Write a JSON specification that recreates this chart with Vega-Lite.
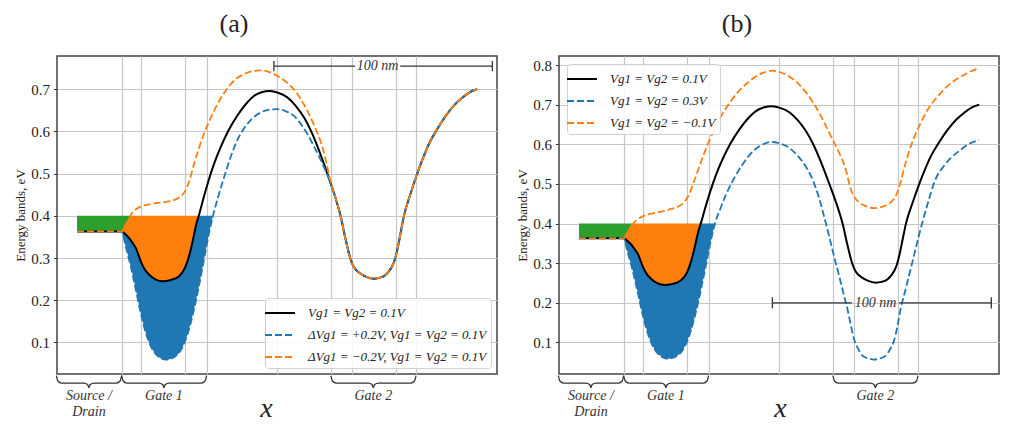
{
  "$schema": "https://vega.github.io/schema/vega-lite/v6.json",
  "autosize": {"type": "pad"},
  "padding": {"left": 14, "top": 10, "right": 5, "bottom": 5},
  "background": "white",
  "spacing": 62,
  "bounds": "flush",
  "datasets": {
    "black": [
      {"x": 9.1, "y": 0.363}, {"x": 20, "y": 0.363}, {"x": 29.4, "y": 0.363}, {"x": 31, "y": 0.357},
      {"x": 32.7, "y": 0.348}, {"x": 34.2, "y": 0.337}, {"x": 35.8, "y": 0.324}, {"x": 38.3, "y": 0.289},
      {"x": 40, "y": 0.272}, {"x": 41.8, "y": 0.261}, {"x": 44.9, "y": 0.249}, {"x": 47.9, "y": 0.245},
      {"x": 51.7, "y": 0.248}, {"x": 55.5, "y": 0.257}, {"x": 58.2, "y": 0.277}, {"x": 60, "y": 0.304},
      {"x": 61.5, "y": 0.336}, {"x": 63.3, "y": 0.38}, {"x": 64.7, "y": 0.405}, {"x": 66.8, "y": 0.446},
      {"x": 68.8, "y": 0.482}, {"x": 71.5, "y": 0.525}, {"x": 74.4, "y": 0.563}, {"x": 78, "y": 0.603},
      {"x": 82, "y": 0.638}, {"x": 85.7, "y": 0.664}, {"x": 89.5, "y": 0.684}, {"x": 93, "y": 0.693},
      {"x": 96.8, "y": 0.696}, {"x": 100.5, "y": 0.692}, {"x": 104.7, "y": 0.681}, {"x": 108.5, "y": 0.661},
      {"x": 112.3, "y": 0.633}, {"x": 115.5, "y": 0.601}, {"x": 118.3, "y": 0.566}, {"x": 120.6, "y": 0.534},
      {"x": 122.9, "y": 0.5}, {"x": 125.9, "y": 0.454}, {"x": 128.9, "y": 0.4}, {"x": 131.2, "y": 0.344},
      {"x": 133.5, "y": 0.296}, {"x": 135, "y": 0.278}, {"x": 136.5, "y": 0.269}, {"x": 138.5, "y": 0.261},
      {"x": 140.3, "y": 0.256}, {"x": 144.1, "y": 0.251}, {"x": 146.5, "y": 0.253}, {"x": 148.6, "y": 0.257},
      {"x": 150.5, "y": 0.266}, {"x": 152.4, "y": 0.281}, {"x": 153.6, "y": 0.297}, {"x": 154.7, "y": 0.32},
      {"x": 156.2, "y": 0.36}, {"x": 157.7, "y": 0.4}, {"x": 160.8, "y": 0.454}, {"x": 163.8, "y": 0.501},
      {"x": 166, "y": 0.532}, {"x": 169.1, "y": 0.571}, {"x": 172.5, "y": 0.603}, {"x": 176.7, "y": 0.637},
      {"x": 180.5, "y": 0.662}, {"x": 184.2, "y": 0.68}, {"x": 187.5, "y": 0.693}, {"x": 191, "y": 0.7}
    ],
    "dash_a": [
      {"s": "b", "x": 9.1, "y": 0.363}, {"s": "b", "x": 20, "y": 0.363}, {"s": "b", "x": 29.4, "y": 0.363},
      {"s": "b", "x": 31.2, "y": 0.328}, {"s": "b", "x": 33.5, "y": 0.281}, {"s": "b", "x": 35.8, "y": 0.226},
      {"s": "b", "x": 38, "y": 0.171}, {"s": "b", "x": 40.3, "y": 0.124}, {"s": "b", "x": 43.3, "y": 0.084},
      {"s": "b", "x": 46.4, "y": 0.065}, {"s": "b", "x": 49.4, "y": 0.059}, {"s": "b", "x": 53.2, "y": 0.065},
      {"s": "b", "x": 57, "y": 0.088}, {"s": "b", "x": 60, "y": 0.131}, {"s": "b", "x": 62.3, "y": 0.179},
      {"s": "b", "x": 64.5, "y": 0.233}, {"s": "b", "x": 66.8, "y": 0.296}, {"s": "b", "x": 69.1, "y": 0.359},
      {"s": "b", "x": 70.9, "y": 0.4}, {"s": "b", "x": 73.3, "y": 0.446}, {"s": "b", "x": 75.5, "y": 0.484},
      {"s": "b", "x": 78.9, "y": 0.539}, {"s": "b", "x": 82, "y": 0.58}, {"s": "b", "x": 85, "y": 0.607},
      {"s": "b", "x": 88.8, "y": 0.631}, {"s": "b", "x": 92.6, "y": 0.645}, {"s": "b", "x": 96.5, "y": 0.652},
      {"s": "b", "x": 100.1, "y": 0.653}, {"s": "b", "x": 104, "y": 0.648}, {"s": "b", "x": 107.7, "y": 0.637},
      {"s": "b", "x": 110.8, "y": 0.618}, {"s": "b", "x": 113.8, "y": 0.594}, {"s": "b", "x": 117, "y": 0.563},
      {"s": "b", "x": 119.9, "y": 0.532}, {"s": "b", "x": 122.9, "y": 0.497}, {"s": "b", "x": 125.1, "y": 0.466},
      {"s": "b", "x": 128.9, "y": 0.4}, {"s": "b", "x": 131.2, "y": 0.344}, {"s": "b", "x": 133.5, "y": 0.296},
      {"s": "b", "x": 135, "y": 0.278}, {"s": "b", "x": 136.5, "y": 0.269}, {"s": "b", "x": 138.5, "y": 0.261},
      {"s": "b", "x": 140.3, "y": 0.256}, {"s": "b", "x": 144.1, "y": 0.251}, {"s": "b", "x": 146.5, "y": 0.253},
      {"s": "b", "x": 148.6, "y": 0.257}, {"s": "b", "x": 150.5, "y": 0.266}, {"s": "b", "x": 152.4, "y": 0.281},
      {"s": "b", "x": 153.6, "y": 0.297}, {"s": "b", "x": 154.7, "y": 0.32}, {"s": "b", "x": 156.2, "y": 0.36},
      {"s": "b", "x": 157.7, "y": 0.4}, {"s": "b", "x": 160.8, "y": 0.454}, {"s": "b", "x": 163.8, "y": 0.501},
      {"s": "b", "x": 166, "y": 0.532}, {"s": "b", "x": 169.1, "y": 0.571}, {"s": "b", "x": 172.5, "y": 0.603},
      {"s": "b", "x": 176.7, "y": 0.637}, {"s": "b", "x": 180.5, "y": 0.662}, {"s": "b", "x": 184.2, "y": 0.68},
      {"s": "b", "x": 187.5, "y": 0.693}, {"s": "b", "x": 191, "y": 0.7},
      {"s": "o", "x": 9.1, "y": 0.363}, {"s": "o", "x": 20, "y": 0.363}, {"s": "o", "x": 29.4, "y": 0.363},
      {"s": "o", "x": 31, "y": 0.378}, {"s": "o", "x": 32, "y": 0.387}, {"s": "o", "x": 34.2, "y": 0.407},
      {"s": "o", "x": 38, "y": 0.422}, {"s": "o", "x": 44.9, "y": 0.43}, {"s": "o", "x": 52.4, "y": 0.436},
      {"s": "o", "x": 55, "y": 0.442}, {"s": "o", "x": 57, "y": 0.45}, {"s": "o", "x": 59.2, "y": 0.469},
      {"s": "o", "x": 60.3, "y": 0.485}, {"s": "o", "x": 62.3, "y": 0.523}, {"s": "o", "x": 64.5, "y": 0.56},
      {"s": "o", "x": 66.8, "y": 0.594}, {"s": "o", "x": 71.4, "y": 0.649}, {"s": "o", "x": 77.4, "y": 0.702},
      {"s": "o", "x": 81, "y": 0.723}, {"s": "o", "x": 85, "y": 0.736}, {"s": "o", "x": 89, "y": 0.743},
      {"s": "o", "x": 92.6, "y": 0.745}, {"s": "o", "x": 96.5, "y": 0.741}, {"s": "o", "x": 100.1, "y": 0.732},
      {"s": "o", "x": 104, "y": 0.718}, {"s": "o", "x": 107.7, "y": 0.7}, {"s": "o", "x": 110.8, "y": 0.677},
      {"s": "o", "x": 113.8, "y": 0.649}, {"s": "o", "x": 117, "y": 0.613}, {"s": "o", "x": 119.9, "y": 0.575},
      {"s": "o", "x": 121.5, "y": 0.547}, {"s": "o", "x": 122.9, "y": 0.515}, {"s": "o", "x": 124.5, "y": 0.478},
      {"s": "o", "x": 125.9, "y": 0.454}, {"s": "o", "x": 128.9, "y": 0.4}, {"s": "o", "x": 131.2, "y": 0.344},
      {"s": "o", "x": 133.5, "y": 0.296}, {"s": "o", "x": 135, "y": 0.278}, {"s": "o", "x": 136.5, "y": 0.269},
      {"s": "o", "x": 138.5, "y": 0.261}, {"s": "o", "x": 140.3, "y": 0.256}, {"s": "o", "x": 144.1, "y": 0.251},
      {"s": "o", "x": 146.5, "y": 0.253}, {"s": "o", "x": 148.6, "y": 0.257}, {"s": "o", "x": 150.5, "y": 0.266},
      {"s": "o", "x": 152.4, "y": 0.281}, {"s": "o", "x": 153.6, "y": 0.297}, {"s": "o", "x": 154.7, "y": 0.32},
      {"s": "o", "x": 156.2, "y": 0.36}, {"s": "o", "x": 157.7, "y": 0.4}, {"s": "o", "x": 160.8, "y": 0.454},
      {"s": "o", "x": 163.8, "y": 0.501}, {"s": "o", "x": 166, "y": 0.532}, {"s": "o", "x": 169.1, "y": 0.571},
      {"s": "o", "x": 172.5, "y": 0.603}, {"s": "o", "x": 176.7, "y": 0.637}, {"s": "o", "x": 180.5, "y": 0.662},
      {"s": "o", "x": 184.2, "y": 0.68}, {"s": "o", "x": 187.5, "y": 0.693}, {"s": "o", "x": 191, "y": 0.7}
    ],
    "dash_b": [
      {"s": "b", "x": 9.1, "y": 0.363}, {"s": "b", "x": 20, "y": 0.363}, {"s": "b", "x": 29.4, "y": 0.363},
      {"s": "b", "x": 31.2, "y": 0.328}, {"s": "b", "x": 33.5, "y": 0.281}, {"s": "b", "x": 35.8, "y": 0.226},
      {"s": "b", "x": 38, "y": 0.171}, {"s": "b", "x": 40.3, "y": 0.124}, {"s": "b", "x": 43.3, "y": 0.084},
      {"s": "b", "x": 46.4, "y": 0.065}, {"s": "b", "x": 49.4, "y": 0.059}, {"s": "b", "x": 53.2, "y": 0.065},
      {"s": "b", "x": 57, "y": 0.088}, {"s": "b", "x": 60, "y": 0.131}, {"s": "b", "x": 62.3, "y": 0.179},
      {"s": "b", "x": 64.5, "y": 0.233}, {"s": "b", "x": 66.8, "y": 0.296}, {"s": "b", "x": 69.1, "y": 0.359},
      {"s": "b", "x": 70.9, "y": 0.4}, {"s": "b", "x": 73.3, "y": 0.437}, {"s": "b", "x": 75.8, "y": 0.472},
      {"s": "b", "x": 78.5, "y": 0.503}, {"s": "b", "x": 81, "y": 0.528}, {"s": "b", "x": 83.3, "y": 0.548},
      {"s": "b", "x": 85.7, "y": 0.567}, {"s": "b", "x": 89.5, "y": 0.589}, {"s": "b", "x": 93, "y": 0.601},
      {"s": "b", "x": 96.8, "y": 0.606}, {"s": "b", "x": 100.5, "y": 0.602}, {"s": "b", "x": 104.7, "y": 0.591},
      {"s": "b", "x": 108.5, "y": 0.571}, {"s": "b", "x": 112.3, "y": 0.543}, {"s": "b", "x": 115.5, "y": 0.508},
      {"s": "b", "x": 118.2, "y": 0.465}, {"s": "b", "x": 120.5, "y": 0.418}, {"s": "b", "x": 122.7, "y": 0.37},
      {"s": "b", "x": 125, "y": 0.318}, {"s": "b", "x": 127.3, "y": 0.269}, {"s": "b", "x": 129.2, "y": 0.226},
      {"s": "b", "x": 131.1, "y": 0.185}, {"s": "b", "x": 132.6, "y": 0.145}, {"s": "b", "x": 134.1, "y": 0.109},
      {"s": "b", "x": 135.9, "y": 0.085}, {"s": "b", "x": 137.9, "y": 0.067}, {"s": "b", "x": 140.5, "y": 0.06},
      {"s": "b", "x": 143.2, "y": 0.057}, {"s": "b", "x": 146, "y": 0.06}, {"s": "b", "x": 148.5, "y": 0.067},
      {"s": "b", "x": 150.5, "y": 0.083}, {"s": "b", "x": 152.3, "y": 0.105}, {"s": "b", "x": 153.8, "y": 0.14},
      {"s": "b", "x": 155.3, "y": 0.185}, {"s": "b", "x": 157.2, "y": 0.227}, {"s": "b", "x": 159.1, "y": 0.269},
      {"s": "b", "x": 161.3, "y": 0.318}, {"s": "b", "x": 163.6, "y": 0.37}, {"s": "b", "x": 165.9, "y": 0.418},
      {"s": "b", "x": 168.2, "y": 0.462}, {"s": "b", "x": 170, "y": 0.495}, {"s": "b", "x": 172, "y": 0.522},
      {"s": "b", "x": 174.5, "y": 0.542}, {"s": "b", "x": 178, "y": 0.565}, {"s": "b", "x": 181.8, "y": 0.583},
      {"s": "b", "x": 186, "y": 0.6}, {"s": "b", "x": 190.9, "y": 0.611},
      {"s": "o", "x": 9.1, "y": 0.363}, {"s": "o", "x": 20, "y": 0.363}, {"s": "o", "x": 29.4, "y": 0.363},
      {"s": "o", "x": 31, "y": 0.377}, {"s": "o", "x": 33.3, "y": 0.397}, {"s": "o", "x": 35.5, "y": 0.41},
      {"s": "o", "x": 37.9, "y": 0.418}, {"s": "o", "x": 42, "y": 0.425}, {"s": "o", "x": 47, "y": 0.431},
      {"s": "o", "x": 51, "y": 0.437}, {"s": "o", "x": 54.5, "y": 0.444}, {"s": "o", "x": 57, "y": 0.455},
      {"s": "o", "x": 59.1, "y": 0.473}, {"s": "o", "x": 61.3, "y": 0.505}, {"s": "o", "x": 63.6, "y": 0.541},
      {"s": "o", "x": 65.9, "y": 0.576}, {"s": "o", "x": 68.2, "y": 0.608}, {"s": "o", "x": 71, "y": 0.642},
      {"s": "o", "x": 74.2, "y": 0.676}, {"s": "o", "x": 78, "y": 0.708}, {"s": "o", "x": 81.8, "y": 0.735},
      {"s": "o", "x": 85.6, "y": 0.755}, {"s": "o", "x": 89.4, "y": 0.771}, {"s": "o", "x": 93, "y": 0.781},
      {"s": "o", "x": 97, "y": 0.786}, {"s": "o", "x": 100.5, "y": 0.782}, {"s": "o", "x": 104.5, "y": 0.772},
      {"s": "o", "x": 108.3, "y": 0.756}, {"s": "o", "x": 112, "y": 0.733}, {"s": "o", "x": 115.8, "y": 0.703},
      {"s": "o", "x": 119.5, "y": 0.667}, {"s": "o", "x": 123, "y": 0.627}, {"s": "o", "x": 127, "y": 0.583},
      {"s": "o", "x": 130.3, "y": 0.538}, {"s": "o", "x": 132.6, "y": 0.488}, {"s": "o", "x": 134.5, "y": 0.465},
      {"s": "o", "x": 136.4, "y": 0.454}, {"s": "o", "x": 139.5, "y": 0.444}, {"s": "o", "x": 143.2, "y": 0.439},
      {"s": "o", "x": 146.5, "y": 0.442}, {"s": "o", "x": 150, "y": 0.45}, {"s": "o", "x": 152.2, "y": 0.462},
      {"s": "o", "x": 153.8, "y": 0.479}, {"s": "o", "x": 155.3, "y": 0.505}, {"s": "o", "x": 156.8, "y": 0.538},
      {"s": "o", "x": 159, "y": 0.58}, {"s": "o", "x": 161.4, "y": 0.617}, {"s": "o", "x": 164.5, "y": 0.655},
      {"s": "o", "x": 168.2, "y": 0.693}, {"s": "o", "x": 172, "y": 0.72}, {"s": "o", "x": 175.8, "y": 0.743},
      {"s": "o", "x": 179.5, "y": 0.76}, {"s": "o", "x": 183.3, "y": 0.773}, {"s": "o", "x": 187, "y": 0.784},
      {"s": "o", "x": 190.9, "y": 0.792}
    ],
    "fill_g": [
      {"x": 9.1, "y": 0.4, "y2": 0.363}, {"x": 29.4, "y": 0.4, "y2": 0.363}, {"x": 31, "y": 0.4, "y2": 0.378},
      {"x": 32, "y": 0.4, "y2": 0.387}, {"x": 33.3, "y": 0.4, "y2": 0.4}
    ],
    "fill_o": [
      {"x": 29.4, "y": 0.363, "y2": 0.363}, {"x": 31, "y": 0.378, "y2": 0.357}, {"x": 32, "y": 0.387, "y2": 0.353},
      {"x": 33.3, "y": 0.4, "y2": 0.343}, {"x": 34.2, "y": 0.4, "y2": 0.337}, {"x": 35.8, "y": 0.4, "y2": 0.324},
      {"x": 38.3, "y": 0.4, "y2": 0.289}, {"x": 40, "y": 0.4, "y2": 0.272}, {"x": 41.8, "y": 0.4, "y2": 0.261},
      {"x": 44.9, "y": 0.4, "y2": 0.249}, {"x": 47.9, "y": 0.4, "y2": 0.245}, {"x": 51.7, "y": 0.4, "y2": 0.248},
      {"x": 55.5, "y": 0.4, "y2": 0.257}, {"x": 58.2, "y": 0.4, "y2": 0.277}, {"x": 60, "y": 0.4, "y2": 0.304},
      {"x": 61.5, "y": 0.4, "y2": 0.336}, {"x": 63.3, "y": 0.4, "y2": 0.38}, {"x": 64.5, "y": 0.4, "y2": 0.4}
    ],
    "fill_b": [
      {"x": 29.4, "y": 0.363, "y2": 0.363}, {"x": 31.2, "y": 0.356, "y2": 0.328}, {"x": 33.5, "y": 0.341, "y2": 0.281},
      {"x": 35.8, "y": 0.324, "y2": 0.226}, {"x": 38, "y": 0.293, "y2": 0.171}, {"x": 40.3, "y": 0.27, "y2": 0.124},
      {"x": 43.3, "y": 0.254, "y2": 0.084}, {"x": 46.4, "y": 0.247, "y2": 0.065}, {"x": 49.4, "y": 0.246, "y2": 0.059},
      {"x": 53.2, "y": 0.251, "y2": 0.065}, {"x": 57, "y": 0.268, "y2": 0.088}, {"x": 60, "y": 0.304, "y2": 0.131},
      {"x": 62.3, "y": 0.356, "y2": 0.179}, {"x": 64.5, "y": 0.4, "y2": 0.233}, {"x": 66.8, "y": 0.4, "y2": 0.296},
      {"x": 69.1, "y": 0.4, "y2": 0.359}, {"x": 70.9, "y": 0.4, "y2": 0.4}
    ],
    "brace_a": [
      {"g": "sd", "x": -0.3, "y": 0.0209}, {"g": "sd", "x": 0.4, "y": 0.0083}, {"g": "sd", "x": 2.0, "y": 0.0036},
      {"g": "sd", "x": 12.2, "y": 0.0036}, {"g": "sd", "x": 13.9, "y": 0.0}, {"g": "sd", "x": 14.5, "y": -0.0071},
      {"g": "sd", "x": 15.1, "y": 0.0}, {"g": "sd", "x": 16.8, "y": 0.0036}, {"g": "sd", "x": 27.1, "y": 0.0036},
      {"g": "sd", "x": 28.7, "y": 0.0083}, {"g": "sd", "x": 29.4, "y": 0.0209},
      {"g": "g1", "x": 29.4, "y": 0.0209}, {"g": "g1", "x": 30.1, "y": 0.0083}, {"g": "g1", "x": 31.7, "y": 0.0036},
      {"g": "g1", "x": 46.3, "y": 0.0036}, {"g": "g1", "x": 48.0, "y": 0.0}, {"g": "g1", "x": 48.6, "y": -0.0071},
      {"g": "g1", "x": 49.2, "y": 0.0}, {"g": "g1", "x": 50.9, "y": 0.0036}, {"g": "g1", "x": 65.7, "y": 0.0036},
      {"g": "g1", "x": 67.3, "y": 0.0083}, {"g": "g1", "x": 68, "y": 0.0209},
      {"g": "g2", "x": 124.5, "y": 0.0209}, {"g": "g2", "x": 125.2, "y": 0.0083}, {"g": "g2", "x": 126.8, "y": 0.0036},
      {"g": "g2", "x": 141.5, "y": 0.0036}, {"g": "g2", "x": 143.2, "y": 0.0}, {"g": "g2", "x": 143.8, "y": -0.0071},
      {"g": "g2", "x": 144.4, "y": 0.0}, {"g": "g2", "x": 146.1, "y": 0.0036}, {"g": "g2", "x": 160.9, "y": 0.0036},
      {"g": "g2", "x": 162.5, "y": 0.0083}, {"g": "g2", "x": 163.2, "y": 0.0209}
    ],
    "brace_b": [
      {"g": "sd", "x": -0.3, "y": 0.0162}, {"g": "sd", "x": 0.4, "y": 0.0028}, {"g": "sd", "x": 2.0, "y": -0.0023},
      {"g": "sd", "x": 12.2, "y": -0.0023}, {"g": "sd", "x": 13.9, "y": -0.006}, {"g": "sd", "x": 14.5, "y": -0.0136},
      {"g": "sd", "x": 15.1, "y": -0.006}, {"g": "sd", "x": 16.8, "y": -0.0023}, {"g": "sd", "x": 27.1, "y": -0.0023},
      {"g": "sd", "x": 28.7, "y": 0.0028}, {"g": "sd", "x": 29.4, "y": 0.0162},
      {"g": "g1", "x": 29.4, "y": 0.0162}, {"g": "g1", "x": 30.1, "y": 0.0028}, {"g": "g1", "x": 31.7, "y": -0.0023},
      {"g": "g1", "x": 46.3, "y": -0.0023}, {"g": "g1", "x": 48.0, "y": -0.006}, {"g": "g1", "x": 48.6, "y": -0.0136},
      {"g": "g1", "x": 49.2, "y": -0.006}, {"g": "g1", "x": 50.9, "y": -0.0023}, {"g": "g1", "x": 65.7, "y": -0.0023},
      {"g": "g1", "x": 67.3, "y": 0.0028}, {"g": "g1", "x": 68, "y": 0.0162},
      {"g": "g2", "x": 124.5, "y": 0.0162}, {"g": "g2", "x": 125.2, "y": 0.0028}, {"g": "g2", "x": 126.8, "y": -0.0023},
      {"g": "g2", "x": 141.5, "y": -0.0023}, {"g": "g2", "x": 143.2, "y": -0.006}, {"g": "g2", "x": 143.8, "y": -0.0136},
      {"g": "g2", "x": 144.4, "y": -0.006}, {"g": "g2", "x": 146.1, "y": -0.0023}, {"g": "g2", "x": 160.9, "y": -0.0023},
      {"g": "g2", "x": 162.5, "y": 0.0028}, {"g": "g2", "x": 163.2, "y": 0.0162}
    ],
    "bar_a": [
      {"x": 98.6, "x2": 135.5, "y": 0.755, "y2": 0.755}, {"x": 156, "x2": 197.9, "y": 0.755, "y2": 0.755},
      {"x": 98.6, "x2": 98.6, "y": 0.743, "y2": 0.767}, {"x": 197.9, "x2": 197.9, "y": 0.743, "y2": 0.767}
    ],
    "bar_b": [
      {"x": 97, "x2": 133.2, "y": 0.2, "y2": 0.2}, {"x": 154.5, "x2": 196.5, "y": 0.2, "y2": 0.2},
      {"x": 97, "x2": 97, "y": 0.186, "y2": 0.214}, {"x": 196.5, "x2": 196.5, "y": 0.186, "y2": 0.214}
    ],
    "text_a": [
      {"x": 14.5, "y": -0.0265, "t": "Source /"}, {"x": 14.5, "y": -0.0645, "t": "Drain"},
      {"x": 48.6, "y": -0.0265, "t": "Gate 1"}, {"x": 143.8, "y": -0.0265, "t": "Gate 2"},
      {"x": 145.7, "y": 0.755, "t": "100 nm"}
    ],
    "text_b": [
      {"x": 14.5, "y": -0.0343, "t": "Source /"}, {"x": 14.5, "y": -0.0747, "t": "Drain"},
      {"x": 48.6, "y": -0.0343, "t": "Gate 1"}, {"x": 143.8, "y": -0.0343, "t": "Gate 2"},
      {"x": 143.9, "y": 0.2, "t": "100 nm"}
    ]
  },
  "hconcat": [
    {
      "width": 440,
      "height": 318,
      "title": {"text": "(a)", "dx": -43, "offset": -2, "baseline": "alphabetic"},
      "encoding": {
        "x": {
          "field": "x", "type": "quantitative",
          "scale": {"domain": [0, 200], "nice": false, "zero": false},
          "axis": {
            "values": [29.4, 38.2, 58.2, 68, 100, 124.5, 134, 154, 163.2],
            "labels": false, "ticks": false, "title": "x",
            "titleFontStyle": "italic", "titleFontSize": 28,
            "titleX": 209, "titleY": 42, "titleBaseline": "alphabetic"
          }
        },
        "y": {
          "field": "y", "type": "quantitative",
          "scale": {"domain": [0.025, 0.779], "nice": false, "zero": false},
          "axis": {
            "values": [0.1, 0.2, 0.3, 0.4, 0.5, 0.6, 0.7], "format": ".1f",
            "title": "Energy bands, eV", "titleFontSize": 13, "titlePadding": 3
          }
        }
      },
      "layer": [
        {"data": {"name": "fill_g"}, "mark": {"type": "area", "color": "#2ca02c"}, "encoding": {"y2": {"field": "y2"}}},
        {"data": {"name": "fill_o"}, "mark": {"type": "area", "color": "#ff7f0e", "interpolate": "monotone"}, "encoding": {"y2": {"field": "y2"}}},
        {"data": {"name": "fill_b"}, "mark": {"type": "area", "color": "#1f77b4", "interpolate": "monotone"}, "encoding": {"y2": {"field": "y2"}}},
        {"data": {"name": "black"}, "mark": {"type": "line", "color": "#000000", "strokeWidth": 2, "interpolate": "monotone"}, "encoding": {}},
        {
          "data": {"name": "dash_a"},
          "mark": {"type": "line", "strokeWidth": 1.8, "interpolate": "monotone"},
          "encoding": {
            "color": {
              "field": "s", "type": "nominal",
              "scale": {"domain": ["k", "b", "o"], "range": ["#000000", "#1f77b4", "#ff7f0e"]},
              "legend": {
                "orient": "bottom-right", "offset": 6,
                "labelExpr": "datum.label == 'k' ? 'Vg1 = Vg2 = 0.1V' : datum.label == 'b' ? 'ΔVg1 = +0.2V, Vg1 = Vg2 = 0.1V' : 'ΔVg1 = −0.2V, Vg1 = Vg2 = 0.1V'"
              }
            },
            "strokeDash": {
              "field": "s", "type": "nominal",
              "scale": {"domain": ["k", "b", "o"], "range": [[1, 0], [7, 3], [7, 3]]},
              "legend": {
                "orient": "bottom-right", "offset": 6,
                "labelExpr": "datum.label == 'k' ? 'Vg1 = Vg2 = 0.1V' : datum.label == 'b' ? 'ΔVg1 = +0.2V, Vg1 = Vg2 = 0.1V' : 'ΔVg1 = −0.2V, Vg1 = Vg2 = 0.1V'"
              }
            }
          }
        },
        {"data": {"name": "brace_a"}, "mark": {"type": "line", "color": "#333333", "strokeWidth": 1.3, "interpolate": "monotone"}, "encoding": {"detail": {"field": "g"}}},
        {"data": {"name": "bar_a"}, "mark": {"type": "rule", "color": "#333333", "strokeWidth": 1.3}, "encoding": {"x2": {"field": "x2"}, "y2": {"field": "y2"}}},
        {"data": {"name": "text_a"}, "mark": {"type": "text", "font": "Liberation Serif", "fontStyle": "italic", "fontSize": 14, "color": "#333333", "baseline": "middle"}, "encoding": {"text": {"field": "t"}}}
      ]
    },
    {
      "width": 440,
      "height": 318,
      "title": {"text": "(b)", "dx": -42, "offset": -2, "baseline": "alphabetic"},
      "encoding": {
        "x": {
          "field": "x", "type": "quantitative",
          "scale": {"domain": [0, 200], "nice": false, "zero": false},
          "axis": {
            "values": [29.4, 38.2, 58.2, 68, 100, 124.5, 134, 154, 163.2],
            "labels": false, "ticks": false, "title": "x",
            "titleFontStyle": "italic", "titleFontSize": 28,
            "titleX": 221, "titleY": 42, "titleBaseline": "alphabetic"
          }
        },
        "y": {
          "field": "y", "type": "quantitative",
          "scale": {"domain": [0.0205, 0.823], "nice": false, "zero": false},
          "axis": {
            "values": [0.1, 0.2, 0.3, 0.4, 0.5, 0.6, 0.7, 0.8], "format": ".1f",
            "title": "Energy bands, eV", "titleFontSize": 13, "titlePadding": 3
          }
        }
      },
      "layer": [
        {"data": {"name": "fill_g"}, "mark": {"type": "area", "color": "#2ca02c"}, "encoding": {"y2": {"field": "y2"}}},
        {"data": {"name": "fill_o"}, "mark": {"type": "area", "color": "#ff7f0e", "interpolate": "monotone"}, "encoding": {"y2": {"field": "y2"}}},
        {"data": {"name": "fill_b"}, "mark": {"type": "area", "color": "#1f77b4", "interpolate": "monotone"}, "encoding": {"y2": {"field": "y2"}}},
        {"data": {"name": "black"}, "mark": {"type": "line", "color": "#000000", "strokeWidth": 2, "interpolate": "monotone"}, "encoding": {}},
        {
          "data": {"name": "dash_b"},
          "mark": {"type": "line", "strokeWidth": 1.8, "interpolate": "monotone"},
          "encoding": {
            "color": {
              "field": "s", "type": "nominal",
              "scale": {"domain": ["k", "b", "o"], "range": ["#000000", "#1f77b4", "#ff7f0e"]},
              "legend": {
                "orient": "top-left", "offset": 8,
                "labelExpr": "datum.label == 'k' ? 'Vg1 = Vg2 = 0.1V' : datum.label == 'b' ? 'Vg1 = Vg2 = 0.3V' : 'Vg1 = Vg2 = −0.1V'"
              }
            },
            "strokeDash": {
              "field": "s", "type": "nominal",
              "scale": {"domain": ["k", "b", "o"], "range": [[1, 0], [7, 3], [7, 3]]},
              "legend": {
                "orient": "top-left", "offset": 8,
                "labelExpr": "datum.label == 'k' ? 'Vg1 = Vg2 = 0.1V' : datum.label == 'b' ? 'Vg1 = Vg2 = 0.3V' : 'Vg1 = Vg2 = −0.1V'"
              }
            }
          }
        },
        {"data": {"name": "brace_b"}, "mark": {"type": "line", "color": "#333333", "strokeWidth": 1.3, "interpolate": "monotone"}, "encoding": {"detail": {"field": "g"}}},
        {"data": {"name": "bar_b"}, "mark": {"type": "rule", "color": "#333333", "strokeWidth": 1.3}, "encoding": {"x2": {"field": "x2"}, "y2": {"field": "y2"}}},
        {"data": {"name": "text_b"}, "mark": {"type": "text", "font": "Liberation Serif", "fontStyle": "italic", "fontSize": 14, "color": "#333333", "baseline": "middle"}, "encoding": {"text": {"field": "t"}}}
      ]
    }
  ],
  "resolve": {
    "scale": {"color": "independent", "strokeDash": "independent"},
    "legend": {"color": "independent", "strokeDash": "independent"}
  },
  "config": {
    "font": "Liberation Serif",
    "view": {"stroke": "#444444", "strokeWidth": 1.5},
    "title": {"font": "Liberation Serif", "fontSize": 26, "fontWeight": "normal", "color": "#222222"},
    "axis": {
      "labelFont": "Liberation Serif", "labelFontSize": 15, "labelColor": "#222222",
      "titleFont": "Liberation Serif", "titleFontWeight": "normal", "titleColor": "#222222",
      "gridColor": "#c6c6c6", "gridWidth": 1.2, "domain": false,
      "tickColor": "#333333", "tickSize": 3.5, "labelPadding": 4, "zindex": 1
    },
    "legend": {
      "title": null,
      "labelFont": "Liberation Serif", "labelFontStyle": "italic", "labelFontSize": 13, "labelColor": "#222222",
      "labelLimit": 0, "labelOffset": 17,
      "symbolType": "M-1.5,0H1.5", "symbolSize": 400, "symbolStrokeWidth": 2,
      "rowPadding": 4, "padding": 4, "cornerRadius": 3,
      "strokeColor": "#d0d0d0", "fillColor": "rgba(255,255,255,0.85)", "zindex": 2
    }
  }
}
